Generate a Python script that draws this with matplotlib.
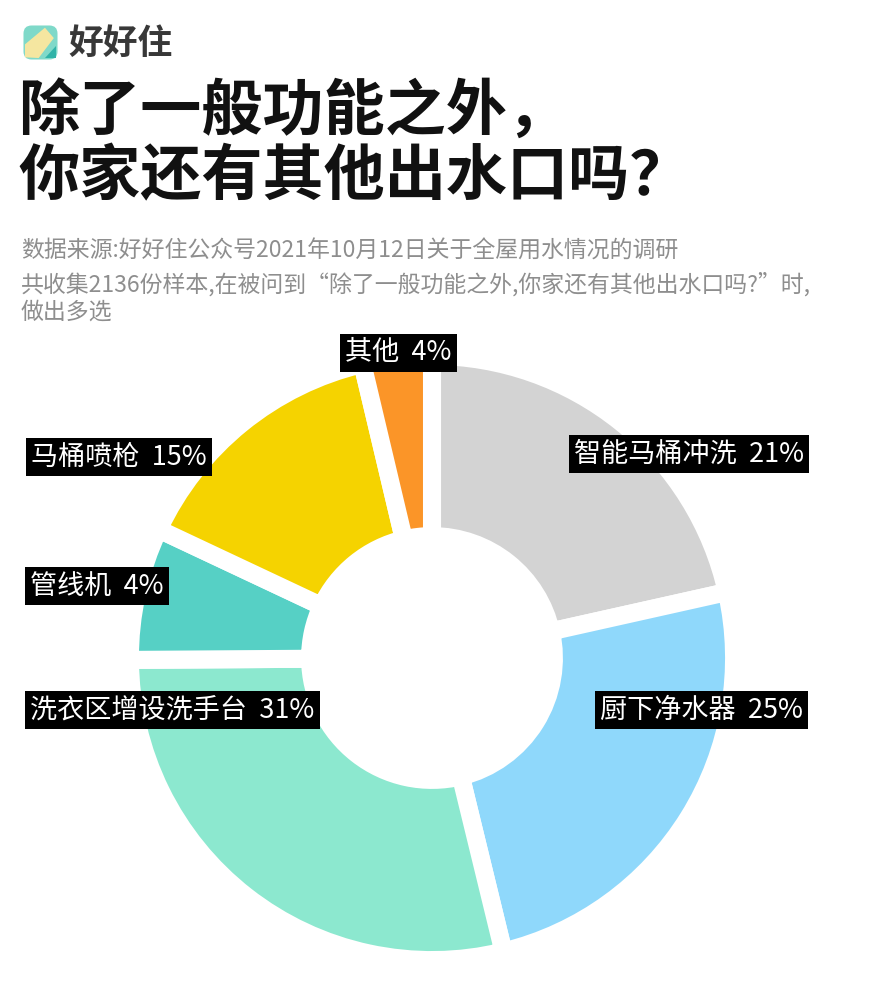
import matplotlib
matplotlib.use("Agg")
import matplotlib.pyplot as plt
from matplotlib.patches import FancyBboxPatch, Polygon

plt.rcParams['font.family'] = ['Noto Sans CJK SC', 'DejaVu Sans']

# 数据（顺时针，从12点方向开始）
labels = ['智能马桶冲洗', '厨下净水器', '洗衣区增设洗手台', '管线机', '马桶喷枪', '其他']
pct_labels = [21, 25, 31, 4, 15, 4]
# 扇区在图上实际所占份额
shares = [21.5, 24.7, 28.7, 7.1, 14.3, 3.7]
colors = ['#d3d3d3', '#8fd8fb', '#8ce8cf', '#56d0c5', '#f5d300', '#fb9528']

title_lines = ['除了一般功能之外，', '你家还有其他出水口吗？']
note_lines = [
    '数据来源:好好住公众号2021年10月12日关于全屋用水情况的调研',
    '共收集2136份样本,在被问到“除了一般功能之外,你家还有其他出水口吗?”时,',
    '做出多选',
]

W, H = 882, 1000
fig = plt.figure(figsize=(W / 100, H / 100), dpi=100)
fig.patch.set_facecolor('white')

# logo
lax = fig.add_axes([22 / W, 1 - 61 / H, 37 / W, 37 / H])
lax.set_xlim(0, 1)
lax.set_ylim(0, 1)
lax.axis('off')
lax.add_patch(FancyBboxPatch((0.04, 0.04), 0.92, 0.92, boxstyle='round,pad=0,rounding_size=0.22',
                             fc='#7fd9c9', ec='none'))
lax.add_patch(Polygon([[0.08, 0.1], [0.08, 0.45], [0.62, 0.9], [0.86, 0.62], [0.45, 0.08]],
                      closed=True, fc='#f5e6a0', ec='none'))
lax.add_patch(Polygon([[0.62, 0.08], [0.92, 0.08], [0.92, 0.4]], closed=True, fc='#2fb3a8', ec='none'))
fig.text(68 / W, 1 - 43 / H, '好好住', fontsize=25, fontweight='bold', color='#383838', va='center')

# 标题
fig.text(18 / W, 1 - 112 / H, title_lines[0], fontsize=44, fontweight='black', color='#111111', va='center')
fig.text(18 / W, 1 - 178 / H, title_lines[1], fontsize=44, fontweight='black', color='#111111', va='center')

# 说明文字
for i, line in enumerate(note_lines):
    y = [251, 284, 312][i]
    fig.text(21 / W, 1 - y / H, line, fontsize=16.5, color='#8e8e8e', va='center')

# 环形图
cx, cy, r = 432, 658, 293
ax = fig.add_axes([(cx - r) / W, 1 - (cy + r) / H, 2 * r / W, 2 * r / H])
ax.pie(shares, colors=colors, startangle=90, counterclock=False, radius=1.031,
       wedgeprops=dict(width=0.615, edgecolor='white', linewidth=13))
ax.set_xlim(-1, 1)
ax.set_ylim(-1, 1)
ax.set_aspect('equal')
ax.axis('off')

# 标签位置（文字左边缘像素，垂直中心像素）
label_pos = [(574, 454), (600, 710), (30, 710), (30, 586), (31, 457), (345, 353)]
for name, p, (lx, ly) in zip(labels, pct_labels, label_pos):
    fig.text(lx / W, 1 - ly / H, f'{name}  {p}%', fontsize=19.5, color='white', va='center', ha='left',
             bbox=dict(boxstyle='square,pad=0.2', fc='black', ec='none'))

fig.savefig('out.png', dpi=100, facecolor='white')
